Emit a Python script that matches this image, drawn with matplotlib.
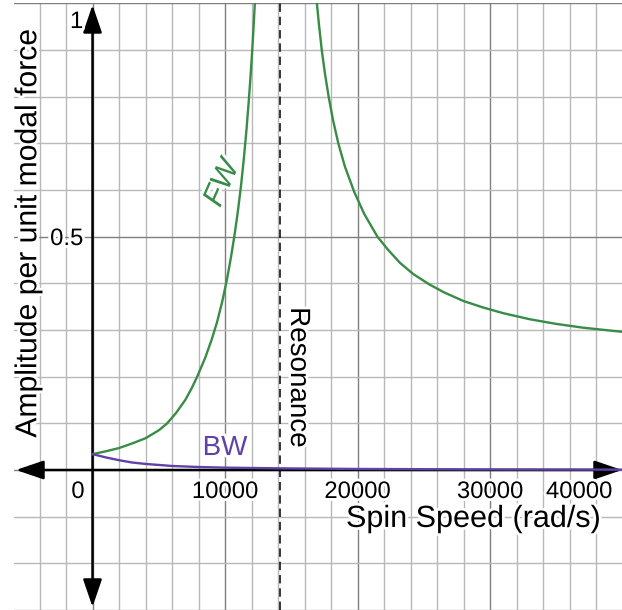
import numpy as np
import matplotlib.pyplot as plt
import matplotlib.patheffects as pe

plt.rcParams['font.family'] = ['Liberation Sans', 'DejaVu Sans']

# forward whirl, branch below resonance
fw_left_x = [0, 1000, 2000, 3000, 4000, 5000, 5600, 6300, 7000, 7500, 7900, 8500,
             9000, 9400, 9800, 10150, 10450, 10700, 10950, 11200, 11420, 11620,
             11780, 11900, 12000, 12100, 12180, 12250, 12330]
fw_left_y = [0.034, 0.040, 0.047, 0.057, 0.068, 0.085, 0.099, 0.122, 0.150, 0.176,
             0.200, 0.240, 0.280, 0.317, 0.362, 0.409, 0.456, 0.500, 0.550, 0.607,
             0.667, 0.729, 0.786, 0.833, 0.875, 0.922, 0.962, 1.000, 1.045]
# forward whirl, branch above resonance
fw_right_x = [16800, 16950, 17100, 17300, 17550, 17820, 18150, 18550, 19050, 19750,
              20500, 21500, 22300, 23200, 24200, 25400, 26500, 28000, 29500, 31000,
              33000, 35000, 37000, 39000, 40000]
fw_right_y = [1.04, 0.995, 0.952, 0.90, 0.848, 0.80, 0.75, 0.70, 0.65, 0.596,
              0.549, 0.50, 0.472, 0.444, 0.42, 0.398, 0.381, 0.362, 0.348, 0.336,
              0.323, 0.313, 0.305, 0.299, 0.296]
# backward whirl
bw_x = [0, 1000, 2000, 3000, 4000, 6000, 8000, 10000, 14000, 20000, 30000, 40000]
bw_y = [0.034, 0.027, 0.021, 0.016, 0.013, 0.0086, 0.0064, 0.005, 0.0036, 0.0022,
        0.0012, 0.0008]

resonance = 14140
x_ticks = [0, 10000, 20000, 30000, 40000]
x_tick_labels = ['0', '10000', '20000', '30000', '40000']
y_ticks = [0.5, 1]
y_tick_labels = ['0.5', '1']

green = '#388c46'
purple = '#6042a6'
halo = [pe.withStroke(linewidth=4, foreground='white')]

fig = plt.figure(figsize=(6.22, 6.10), dpi=100)
ax = fig.add_axes([14 / 622, 0, 608 / 622, 606.7 / 610])
ax.set_xlim(-5925, 39960)
ax.set_ylim(-0.3, 1.0)
ax.axis('off')

# grid
for gx in np.arange(-4000, 40001, 2000):
    major = gx % 10000 == 0
    ax.axvline(gx, color='#7f7f7f' if major else '#b8b8b8', lw=1.0, zorder=0)
for gy in np.arange(-0.3, 1.001, 0.1):
    gy = round(gy, 1)
    major = abs(gy * 2 - round(gy * 2)) < 1e-6
    ax.axhline(gy, color='#7f7f7f' if major else '#b8b8b8', lw=1.0, zorder=0)

# axes with arrows
arr = dict(arrowstyle='<|-|>,head_length=17,head_width=5.8', mutation_scale=1,
           lw=1.8, color='black', shrinkA=0, shrinkB=0)
ax.annotate('', xy=(39960, 0), xytext=(-5774, 0), arrowprops=arr,
            annotation_clip=False, zorder=3)
ax.annotate('', xy=(0, 0.9964), xytext=(0, -0.2935), arrowprops=arr,
            annotation_clip=False, zorder=3)

# resonance line
ax.axvline(resonance, color='black', lw=1.1, linestyle=(0, (5.5, 3.2)), zorder=2)

# curves
ax.plot(fw_left_x, fw_left_y, color=green, lw=1.7, zorder=4)
ax.plot(fw_right_x, fw_right_y, color=green, lw=1.7, zorder=4)
ax.plot(bw_x, bw_y, color=purple, lw=1.7, zorder=4)

# tick labels
for v, s in zip(x_ticks, x_tick_labels):
    xpos = v
    if v == 0:
        xpos = -1100
    if v == 40000:
        xpos = 36720
    ax.text(xpos, -0.060, s, ha='center', va='baseline', fontsize=17.2,
            path_effects=halo, zorder=5)
for v, s in zip(y_ticks, y_tick_labels):
    ypos = v - 0.018
    if v == 1:
        ypos = 0.947
    ax.text(-700, ypos, s, ha='right', va='baseline', fontsize=17.2,
            path_effects=halo, zorder=5)

# labels
ax.text(28720, -0.122, 'Spin Speed (rad/s)', ha='center', va='baseline',
        fontsize=22, path_effects=halo, zorder=5)
ax.text(-4850, 0.507, 'Amplitude per unit modal force', ha='center', va='center',
        rotation=90, fontsize=21.7, path_effects=halo, zorder=5)
ax.text(15510, 0.199, 'Resonance', ha='center', va='center', rotation=270,
        fontsize=20, path_effects=halo, zorder=5)
ax.text(10000, 0.032, 'BW', ha='center', va='baseline', fontsize=20,
        color=purple, path_effects=halo, zorder=5)
ax.text(9800, 0.614, 'FW', ha='center', va='center', rotation=66, fontsize=22,
        style='italic', color=green, path_effects=halo, zorder=5)

fig.savefig('out.png', dpi=100)
